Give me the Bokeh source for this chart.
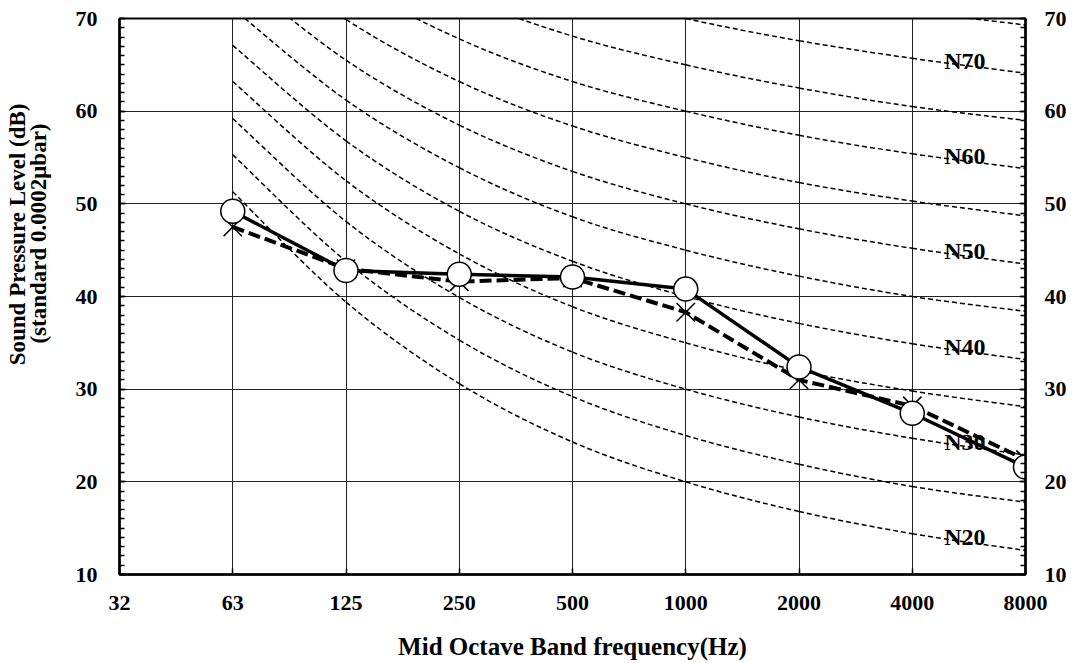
import math
from bokeh.plotting import figure
from bokeh.models import LinearAxis, FixedTicker, Title, Range1d
from bokeh.embed import file_html
from bokeh.resources import INLINE
from bokeh.core.properties import value

# ---------------- data ----------------
freq_labels = ["32", "63", "125", "250", "500", "1000", "2000", "4000", "8000"]
curve_freqs = ["63", "125", "250", "500", "1000", "2000", "4000", "8000"]

# N (noise rating) curves, dB at 63 ... 8000 Hz
n20 = [51.3, 39.4, 30.6, 24.3, 20.0, 16.8, 14.4, 12.6]
n25 = [55.3, 43.8, 35.3, 29.2, 25.0, 21.9, 19.5, 17.8]
n30 = [59.2, 48.1, 39.9, 34.0, 30.0, 27.0, 24.7, 22.9]
n35 = [63.2, 52.5, 44.6, 38.9, 35.0, 32.0, 29.8, 28.1]
n40 = [67.1, 56.8, 49.2, 43.8, 40.0, 37.1, 34.9, 33.2]
n45 = [71.1, 61.2, 53.9, 48.6, 45.0, 42.2, 40.0, 38.4]
n50 = [75.0, 65.5, 58.5, 53.5, 50.0, 47.3, 45.2, 43.5]
n55 = [79.0, 69.9, 63.2, 58.4, 55.0, 52.3, 50.3, 48.7]
n60 = [82.9, 74.2, 67.8, 63.2, 60.0, 57.4, 55.4, 53.8]
n65 = [86.9, 78.6, 72.5, 68.1, 65.0, 62.5, 60.5, 59.0]
n70 = [90.8, 82.9, 77.1, 73.0, 70.0, 67.6, 65.7, 64.1]
n75 = [94.8, 87.3, 81.8, 77.9, 75.0, 72.6, 70.8, 69.3]
n_curves = [n20, n25, n30, n35, n40, n45, n50, n55, n60, n65, n70, n75]

n_label_texts = ["N20", "N30", "N40", "N50", "N60", "N70"]
n_label_curves = [n20, n30, n40, n50, n60, n70]

# measured spectra
meas_solid = [49.2, 42.8, 42.4, 42.1, 40.8, 32.4, 27.4, 21.6]
meas_dashed = [47.5, 43.0, 41.6, 42.0, 38.3, 31.0, 28.2, 22.4]

y_ticks = [10, 20, 30, 40, 50, 60, 70]

# ---------------- figure ----------------
FONT = "Liberation Serif"

xs = [freq_labels.index(f) for f in curve_freqs]

p = figure(frame_width=906, frame_height=556,
           x_range=Range1d(0, len(freq_labels) - 1), y_range=Range1d(10, 70),
           output_backend="svg", toolbar_location=None,
           min_border_left=119, min_border_right=50,
           min_border_top=18, min_border_bottom=86,
           background_fill_color="white", border_fill_color="white")
p.outline_line_color = "black"
p.outline_line_width = 2

# grid
p.xgrid.ticker = FixedTicker(ticks=list(range(len(freq_labels))))
p.ygrid.ticker = FixedTicker(ticks=y_ticks)
for g in (p.xgrid, p.ygrid):
    g.grid_line_color = "#222222"
    g.grid_line_width = 1

# x axis
xa = p.xaxis[0]
xa.ticker = FixedTicker(ticks=list(range(len(freq_labels))))
xa.major_label_overrides = {i: f for i, f in enumerate(freq_labels)}
xa.axis_label = "Mid Octave Band frequency(Hz)"
xa.axis_label_text_font = FONT
xa.axis_label_text_font_style = "bold"
xa.axis_label_text_font_size = "25px"
xa.axis_label_text_color = "black"
xa.axis_label_standoff = 20
xa.major_label_standoff = 21

# y axes
ya = p.yaxis[0]
ya.ticker = FixedTicker(ticks=y_ticks, minor_ticks=list(range(10, 71)))
ya.major_label_standoff = 22
yr = LinearAxis(ticker=FixedTicker(ticks=y_ticks, minor_ticks=list(range(10, 71))))
yr.major_label_standoff = 19
p.add_layout(yr, "right")

for ax in (xa, ya, yr):
    ax.axis_line_color = "black"
    ax.axis_line_width = 2.5
    ax.major_tick_in = 6
    ax.major_tick_out = 0
    ax.minor_tick_in = 5
    ax.minor_tick_out = 0
    ax.major_tick_line_color = "black"
    ax.minor_tick_line_color = "black"
    ax.major_tick_line_width = 1.5
    ax.minor_tick_line_width = 1.5
    ax.major_label_text_font = FONT
    ax.major_label_text_font_style = "bold"
    ax.major_label_text_font_size = "22px"
    ax.major_label_text_color = "black"
xa.minor_tick_line_color = None

# y axis title (two lines) as left-side titles
t2 = Title(text="(standard 0.0002\u03bcbar)", align="right", offset=105,
           standoff=44, text_font=FONT, text_font_style="bold",
           text_font_size="23px", text_color="black")
t1 = Title(text="Sound Pressure Level (dB)", align="right", offset=85,
           standoff=-56, text_font=FONT, text_font_style="bold",
           text_font_size="23px", text_color="black")
p.add_layout(t2, "left")
p.add_layout(t1, "left")

# ---------------- N curves (smooth dashed) ----------------
def bezier_segments(xv, yv):
    n = len(xv)
    out = {k: [] for k in ("x0", "y0", "x1", "y1", "cx0", "cy0", "cx1", "cy1")}
    for i in range(n - 1):
        xm, ym = (xv[i - 1], yv[i - 1]) if i > 0 else (xv[i], yv[i])
        xp, yp = (xv[i + 2], yv[i + 2]) if i + 2 < n else (xv[i + 1], yv[i + 1])
        out["x0"].append(xv[i]); out["y0"].append(yv[i])
        out["x1"].append(xv[i + 1]); out["y1"].append(yv[i + 1])
        out["cx0"].append(xv[i] + (xv[i + 1] - xm) / 6.0)
        out["cy0"].append(yv[i] + (yv[i + 1] - ym) / 6.0)
        out["cx1"].append(xv[i + 1] - (xp - xv[i]) / 6.0)
        out["cy1"].append(yv[i + 1] - (yp - yv[i]) / 6.0)
    return out

for curve in n_curves:
    seg = bezier_segments(xs, curve)
    p.bezier(line_color="black", line_width=1.5, line_dash="5 3", **seg)

# N labels
lab_x = (xs[-2] + xs[-1]) / 2.0
lab_y = [(c[-2] + c[-1]) / 2.0 for c in n_label_curves]
p.text(x=[lab_x] * len(lab_y), y=lab_y, text=n_label_texts,
       text_font=value(FONT), text_font_style="bold",
       text_font_size=value("24px"), text_align="center",
       text_baseline="middle", x_offset=-4, y_offset=-5, text_color="black")

# ---------------- measured spectra ----------------
p.line(xs, meas_dashed, line_color="black", line_width=4, line_dash="12 5")
p.line(xs, meas_solid, line_color="black", line_width=3.5)
p.scatter(xs, meas_dashed, marker="x", size=26, line_color="black",
          line_width=1.5)
p.scatter(xs, meas_solid, marker="circle", size=24, fill_color="white",
          line_color="black", line_width=1.5)

open("out.html", "w").write(file_html(p, INLINE))
